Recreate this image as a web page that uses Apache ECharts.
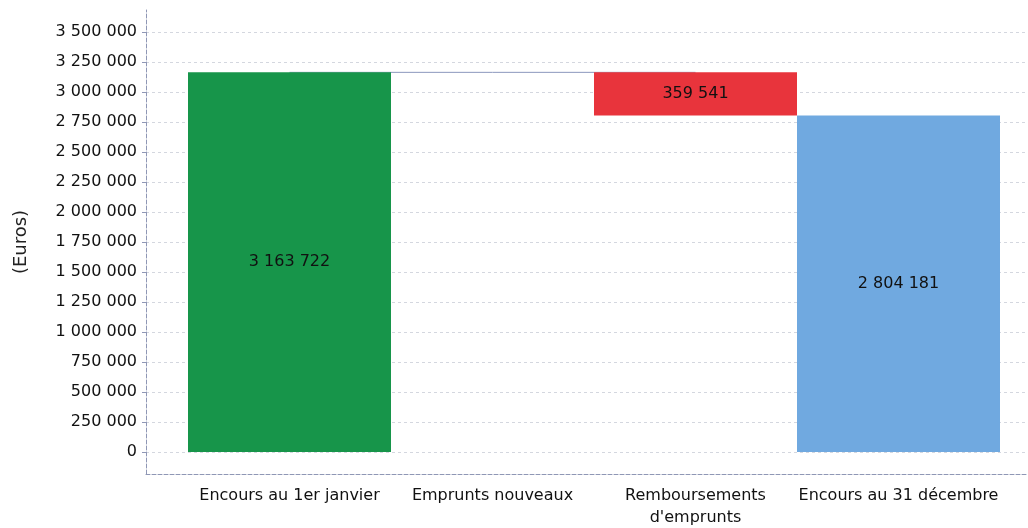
<!DOCTYPE html>
<html>
<head>
<meta charset="utf-8">
<script src="https://cdn.jsdelivr.net/npm/echarts@6/dist/echarts.min.js"></script>
<style>html,body{margin:0;padding:0;background:#fff}#c{width:1028px;height:528px}</style>
</head>
<body>
<div id="c"></div>
<script>
const categories = ["Encours au 1er janvier", "Emprunts nouveaux", "Remboursements\nd'emprunts", "Encours au 31 décembre"];
const amounts = [3163722, 0, 359541, 2804181];
const kinds = ["total", "up", "down", "total"];
const barColors = ["#17954a", "#3b7fd0", "#e8343c", "#70a9e0"];
const yTicks = { min: 0, max: 3500000, interval: 250000 };

// running totals for the waterfall base
const bases = [], runTops = [];
let running = 0;
for (let i = 0; i < amounts.length; i++) {
  if (kinds[i] === "total") { bases.push(0); running = amounts[i]; }
  else if (kinds[i] === "up") { bases.push(running); running += amounts[i]; }
  else { running -= amounts[i]; bases.push(running); }
  runTops.push(kinds[i] === "down" ? running + amounts[i] : running);
}
const connector = [runTops[0], runTops[0], runTops[0], null];

function fmt(v) { return String(Math.round(v)).replace(/\B(?=(\d{3})+(?!\d))/g, " "); }

const font = "DejaVu Sans";
const chart = echarts.init(document.getElementById('c'), null, { renderer: 'canvas' });
chart.setOption({
  animation: false,
  textStyle: { fontFamily: font },
  grid: [
    { left: 146, right: 0, top: 32, bottom: 76, outerBoundsMode: 'none', containLabel: false },
    { left: 188, right: 28, top: 32, bottom: 76, outerBoundsMode: 'none', containLabel: false },
    { left: 146, right: 0, top: 10, bottom: 54, outerBoundsMode: 'none', containLabel: false }
  ],
  xAxis: [
    { gridIndex: 0, type: 'category', data: categories, show: false },
    { gridIndex: 1, type: 'category', data: categories,
      axisLine: { show: false }, axisTick: { show: false },
      axisLabel: { color: '#111', fontSize: 16, margin: 33, lineHeight: 22, fontFamily: font, interval: 0 } },
    { gridIndex: 2, type: 'value', min: 0, max: 1,
      axisLine: { show: true, lineStyle: { color: '#8f97b5', type: [4, 2], width: 1 } },
      axisTick: { show: false }, axisLabel: { show: false }, splitLine: { show: false } }
  ],
  yAxis: [
    { gridIndex: 0, type: 'value', min: yTicks.min, max: yTicks.max, interval: yTicks.interval,
      name: '(Euros)', nameLocation: 'middle', nameGap: 116,
      nameTextStyle: { fontSize: 18, color: '#222', fontFamily: font },
      axisLine: { show: false },
      axisTick: { show: true, length: 4, lineStyle: { color: '#8f97b5' } },
      axisLabel: { color: '#111', fontSize: 16, margin: 9, formatter: fmt, fontFamily: font },
      splitLine: { show: true, lineStyle: { color: '#d4d7df', type: [3, 3], width: 1 } } },
    { gridIndex: 1, type: 'value', min: yTicks.min, max: yTicks.max, interval: yTicks.interval, show: false },
    { gridIndex: 2, type: 'value', min: 0, max: 1,
      axisLine: { show: true, lineStyle: { color: '#8f97b5', type: [4, 2], width: 1 } },
      axisTick: { show: false }, axisLabel: { show: false }, splitLine: { show: false } }
  ],
  series: [
    { type: 'line', xAxisIndex: 1, yAxisIndex: 1, data: connector, symbol: 'none', z: 1,
      lineStyle: { color: '#8c98bd', width: 1 }, silent: true },
    { type: 'bar', xAxisIndex: 1, yAxisIndex: 1, stack: 'w', barCategoryGap: '0%', z: 2,
      itemStyle: { color: 'transparent' }, data: bases, silent: true },
    { type: 'bar', xAxisIndex: 1, yAxisIndex: 1, stack: 'w', barCategoryGap: '0%', z: 3,
      data: amounts.map((v, i) => ({ value: v, itemStyle: { color: barColors[i] } })),
      label: { show: true, position: 'inside', color: '#111', fontSize: 16, fontFamily: font,
        formatter: p => p.value ? fmt(p.value) : '' } }
  ]
});
</script>
</body>
</html>
